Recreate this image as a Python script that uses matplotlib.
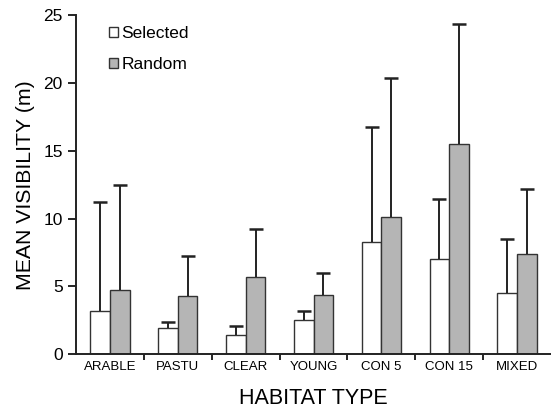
import numpy as np
import matplotlib.pyplot as plt
from matplotlib.patches import Patch

plt.rcParams['font.family'] = ['Liberation Sans', 'DejaVu Sans']

# Data
habitats = ['ARABLE', 'PASTU', 'CLEAR', 'YOUNG', 'CON 5', 'CON 15', 'MIXED']
selected = [3.2, 1.9, 1.4, 2.5, 8.3, 7.0, 4.5]
selected_err = [8.0, 0.45, 0.7, 0.7, 8.45, 4.45, 4.0]
random_vis = [4.75, 4.3, 5.7, 4.4, 10.15, 15.5, 7.4]
random_err = [7.75, 2.95, 3.55, 1.6, 10.2, 8.85, 4.8]

fig = plt.figure(figsize=(5.51, 4.09), dpi=100)
ax = fig.add_axes([0.138, 0.134, 0.862, 0.829])

x = np.arange(len(habitats)) + 0.5
w = 0.29
err_kw = dict(ecolor='#222222', elinewidth=1.4, capsize=5, capthick=1.8)
b1 = ax.bar(x - w / 2, selected, w, color='white', edgecolor='#333333', linewidth=1.0,
            yerr=[np.zeros(len(selected)), selected_err], error_kw=err_kw, zorder=2)
b2 = ax.bar(x + w / 2, random_vis, w, color='#b5b5b5', edgecolor='#333333', linewidth=1.0,
            yerr=[np.zeros(len(random_vis)), random_err], error_kw=err_kw, zorder=2)
# only the upper caps, like the original
for b in [b1, b2]:
    b.errorbar.lines[1][0].set_visible(False)

# Axes design
ax.set_xlim(0, 7)
ax.set_ylim(0, 25)
ax.set_yticks([0, 5, 10, 15, 20, 25])
ax.set_xticks(x)
ax.set_xticklabels(habitats, fontsize=9.5)
ax.set_xticks(np.arange(1, 7), minor=True)
ax.tick_params(axis='x', which='major', length=0, pad=5)
ax.tick_params(axis='x', which='minor', length=4, width=1.2, direction='out')
ax.tick_params(axis='y', length=6, width=1.2, labelsize=12.5, pad=3.5)
for s in ['top', 'right']:
    ax.spines[s].set_visible(False)
for s in ['left', 'bottom']:
    ax.spines[s].set_linewidth(1.4)
    ax.spines[s].set_color('#222222')

ax.set_ylabel('MEAN VISIBILITY (m)', fontsize=15.3, labelpad=6)
ax.set_xlabel('HABITAT TYPE', fontsize=15.5, labelpad=11)

handles = [Patch(facecolor='white', edgecolor='#333333', label='Selected'),
           Patch(facecolor='#b5b5b5', edgecolor='#333333', label='Random')]
ax.legend(handles=handles, loc='upper left', bbox_to_anchor=(0.197, 0.936),
          bbox_transform=fig.transFigure, frameon=False, borderpad=0, borderaxespad=0,
          fontsize=12.5, handlelength=0.55, handleheight=0.55, handletextpad=0.2,
          labelspacing=0.93)

plt.savefig('out.png', dpi=100)
